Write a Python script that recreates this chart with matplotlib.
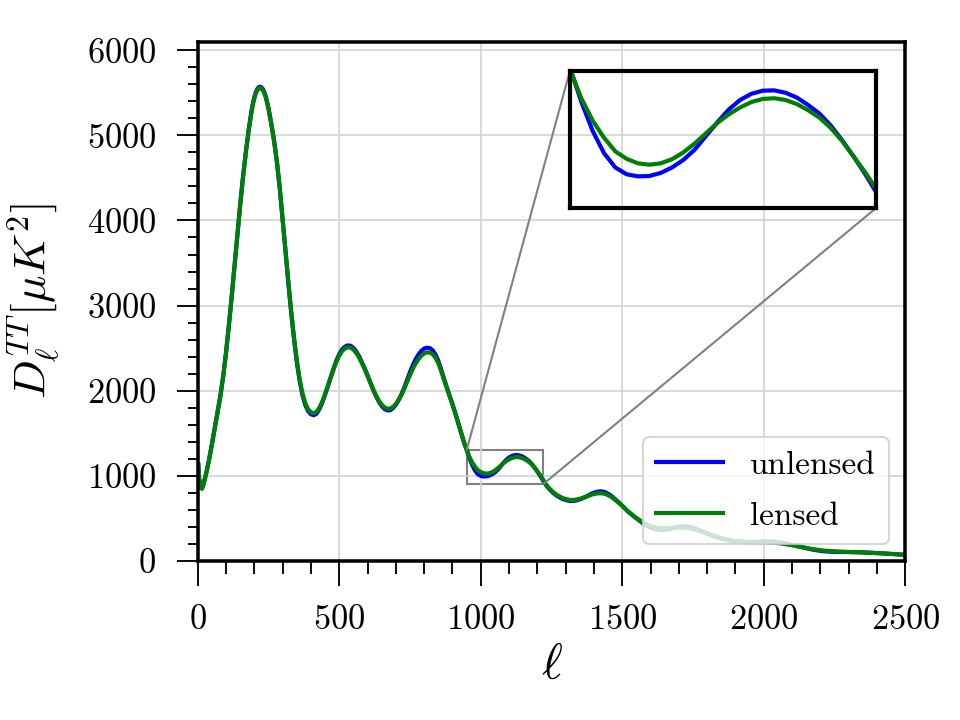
#CMB TT power spectrum: unlensed vs lensed, with a zoomed inset
import matplotlib
matplotlib.use("Agg")
import matplotlib.pyplot as plt
from mpl_toolkits.axes_grid1.inset_locator import mark_inset

#multipoles (denser around the first peak and in the zoomed window)
ell = ([2, 5, 10, 15, 20]
       + list(range(30, 191, 10))
       + list(range(195, 246, 5))
       + list(range(250, 941, 10))
       + list(range(950, 1221, 10))
       + [1230, 1240, 1255, 1270, 1290, 1315, 1335, 1355, 1375, 1395,
          1410, 1425, 1440, 1460, 1480, 1500]
       + list(range(1520, 2501, 20)))

#D_ell^TT in muK^2
unlensed = [1130, 960, 860, 850, 900,
            1030, 1190, 1370, 1560, 1745, 1940, 2170, 2450, 2770, 3110,
            3470, 3840, 4190, 4520, 4810, 5070, 5290,
            5380, 5450, 5505, 5543, 5565, 5572, 5565, 5545, 5510, 5460, 5395,
            5320, 5135, 4930, 4680, 4370, 4010, 3640, 3270, 2920, 2610,
            2335, 2115, 1945, 1830, 1760, 1722, 1712, 1730, 1785, 1860,
            1955, 2055, 2160, 2260, 2355, 2430, 2485, 2517, 2532, 2528,
            2502, 2460, 2405, 2335, 2260, 2180, 2095, 2010, 1935, 1870,
            1820, 1785, 1768, 1770, 1795, 1835, 1890, 1960, 2040, 2130,
            2220, 2300, 2370, 2425, 2468, 2495, 2505, 2500, 2475, 2425,
            2350, 2250, 2140, 2040, 1940, 1840, 1735, 1625, 1510, 1400,
            1310, 1210, 1125, 1060, 1018, 998, 992, 993, 1002, 1018,
            1040, 1070, 1110, 1150, 1187, 1215, 1233, 1242, 1243, 1236,
            1222, 1200, 1175, 1140, 1097, 1050, 1000, 945,
            892, 852, 800, 762, 725, 703, 708, 728, 760, 795,
            812, 818, 808, 768, 710, 648,
            580, 525, 475, 425, 390, 370, 364, 370, 385, 400,
            405, 398, 378, 350, 322, 295, 272, 253, 240, 230,
            224, 221, 222, 225, 228, 229, 225, 215, 202, 188,
            172, 156, 141, 128, 118, 111, 107, 105, 104, 104,
            103, 101, 98, 95, 92, 88, 84, 80, 75, 70]

lensed = [1130, 960, 860, 850, 900,
          1030, 1190, 1370, 1560, 1745, 1940, 2170, 2450, 2770, 3110,
          3470, 3835, 4180, 4505, 4795, 5055, 5275,
          5365, 5435, 5490, 5528, 5550, 5557, 5550, 5530, 5495, 5447, 5383,
          5310, 5128, 4925, 4678, 4370, 4015, 3648, 3280, 2935, 2628,
          2355, 2137, 1968, 1852, 1782, 1745, 1735, 1752, 1803, 1873,
          1962, 2058, 2158, 2253, 2342, 2413, 2465, 2495, 2510, 2506,
          2482, 2442, 2390, 2323, 2250, 2173, 2092, 2012, 1942, 1882,
          1836, 1804, 1788, 1790, 1810, 1845, 1893, 1955, 2025, 2105,
          2185, 2258, 2320, 2370, 2410, 2438, 2450, 2447, 2428, 2388,
          2322, 2230, 2128, 2030, 1933, 1836, 1733, 1625, 1512, 1403,
          1305, 1220, 1155, 1105, 1065, 1043, 1030, 1026, 1030, 1042,
          1062, 1088, 1118, 1148, 1173, 1193, 1209, 1218, 1220, 1215,
          1203, 1185, 1163, 1133, 1095, 1050, 1005, 955,
          900, 860, 810, 773, 737, 715, 718, 734, 758, 782,
          792, 795, 787, 755, 703, 646,
          582, 528, 480, 440, 408, 390, 383, 385, 390, 393,
          391, 382, 364, 342, 319, 296, 275, 258, 245, 235,
          228, 224, 222, 220, 218, 216, 212, 205, 195, 184,
          171, 158, 146, 135, 126, 119, 114, 110, 107, 105,
          103, 101, 98, 95, 92, 88, 84, 80, 76, 72]

#zoom window
zoom_x = (950, 1220)
zoom_y = (900, 1300)

#Computer Modern look
plt.rcParams["font.family"] = "serif"
plt.rcParams["font.serif"] = ["cmr10"]
plt.rcParams["mathtext.fontset"] = "cm"
plt.rcParams["axes.formatter.use_mathtext"] = True
plt.rcParams["axes.unicode_minus"] = False

fig = plt.figure(figsize=(6.4, 4.8), dpi=150)
ax = fig.add_axes([0.206, 0.221, 0.737, 0.721])

ax.plot(ell, unlensed, color="blue", lw=2, label="unlensed")
ax.plot(ell, lensed, color="green", lw=2, label="lensed")

ax.set_xlim(0, 2500)
ax.set_ylim(0, 6100)
ax.set_xticks([0, 500, 1000, 1500, 2000, 2500])
ax.set_xticks(range(0, 2501, 100), minor=True)
ax.set_yticks([0, 1000, 2000, 3000, 4000, 5000, 6000])
ax.set_yticks(range(0, 6001, 200), minor=True)
ax.tick_params(which="both", direction="out", width=0.9, labelsize=16.5)
ax.tick_params(axis="x", which="major", length=12, pad=9)
ax.tick_params(axis="x", which="minor", length=6)
ax.tick_params(axis="y", which="major", length=10, pad=10)
ax.tick_params(axis="y", which="minor", length=5)
for s in ax.spines.values():
    s.set_linewidth(1.7)

ax.grid(True, which="major", color="#d3d3d3", lw=0.8)

ax.set_xlabel(r"$\ell$", fontsize=24, labelpad=3)
ax.set_ylabel(r"$D_\ell^{TT} [\mu K^2]$", fontsize=22, labelpad=12)

ax.legend(loc="lower right", fontsize=16, labelspacing=0.65)

#inset
axins = ax.inset_axes([0.526, 0.680, 0.433, 0.264])
axins.plot(ell, unlensed, color="blue", lw=2)
axins.plot(ell, lensed, color="green", lw=2)
axins.set_xlim(*zoom_x)
axins.set_ylim(*zoom_y)
axins.set_xticks([])
axins.set_yticks([])
axins.set_facecolor("none")
for s in axins.spines.values():
    s.set_linewidth(2)

mark_inset(ax, axins, loc1=2, loc2=4, fc="none", ec="0.5", lw=1)

fig.savefig("out.png", dpi=150)
